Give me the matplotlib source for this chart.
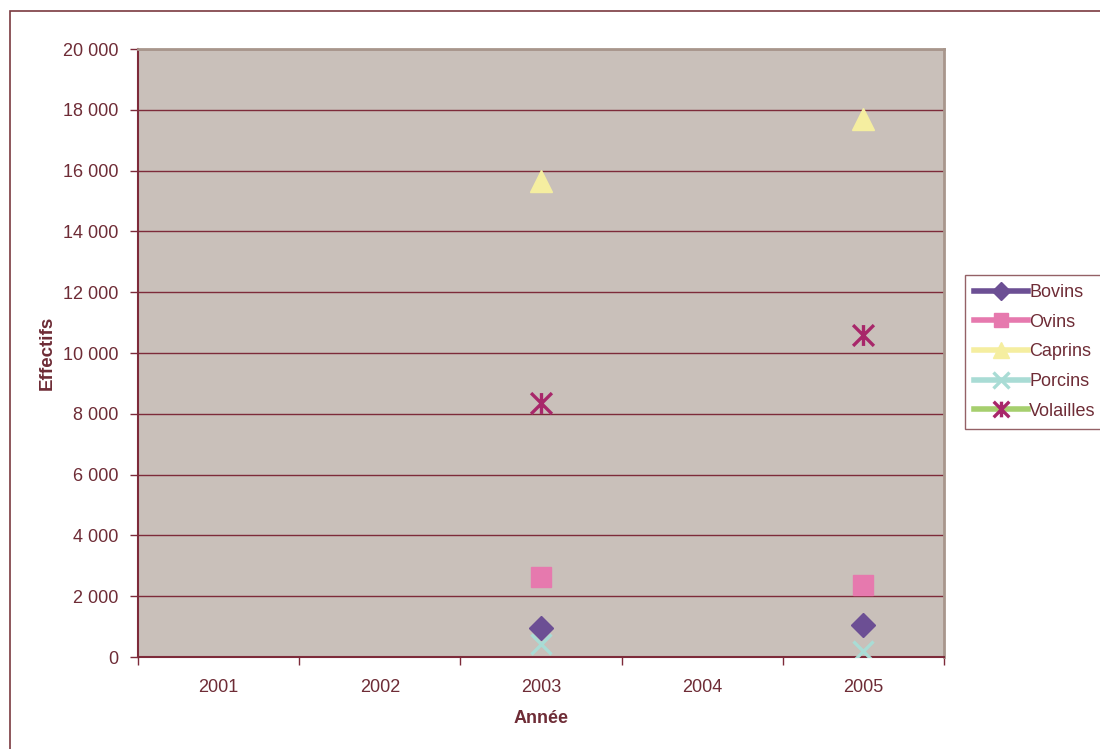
import numpy as np
import matplotlib
matplotlib.use("Agg")
import matplotlib.pyplot as plt
from matplotlib.path import Path
from matplotlib.patches import Rectangle
from matplotlib.ticker import FuncFormatter, FixedLocator

plt.rcParams['font.family'] = ['Liberation Sans', 'DejaVu Sans']

# donnees
annees = ["2001", "2002", "2003", "2004", "2005"]
bovins = [np.nan, np.nan, 950, np.nan, 1050]
ovins = [np.nan, np.nan, 2640, np.nan, 2370]
caprins = [np.nan, np.nan, 15650, np.nan, 17700]
porcins = [np.nan, np.nan, 430, np.nan, 200]
volailles = [np.nan, np.nan, 8360, np.nan, 10600]

texte = "#6E2C36"
grille = "#7D2B3A"

# marqueur asterisque (trait vertical + croix)
etoile = Path([(0, -1), (0, 1), (-1, -1), (1, 1), (-1, 1), (1, -1)],
              [Path.MOVETO, Path.LINETO, Path.MOVETO, Path.LINETO, Path.MOVETO, Path.LINETO])

fig = plt.figure(figsize=(11, 7.49), dpi=100)
fig.patches.append(Rectangle((10 / 1100, -0.1), 1.2, 1 - 11 / 749 + 0.1, transform=fig.transFigure,
                             fill=False, edgecolor="#7A3A40", linewidth=1.2))
ax = fig.add_axes([138 / 1100, 1 - 657 / 749, 806 / 1100, 608 / 749])
ax.set_facecolor("#C9C0BA")

x = np.arange(len(annees))
series = [
    ("Bovins", bovins, "#6C4F94", "#6C4F94", "D", 12),
    ("Ovins", ovins, "#E679AE", "#E679AE", "s", 14),
    ("Caprins", caprins, "#F5EEA0", "#F5EEA0", "^", 16),
    ("Porcins", porcins, "#A9DCD5", "#A9DCD5", "x", 15),
    ("Volailles", volailles, "#A6CF6E", "#A8276A", etoile, 15),
]
for nom, vals, c_ligne, c_marq, m, ms in series:
    ew = 2.4 if m in ("x",) or m is etoile else 1
    ax.plot(x, vals, color=c_ligne, linewidth=4, marker=m, markersize=ms,
            markerfacecolor=c_marq, markeredgecolor=c_marq, markeredgewidth=ew,
            label=nom, zorder=3)

ax.set_xlim(-0.5, 4.5)
ax.set_ylim(0, 20000)
ax.set_yticks(np.arange(0, 20001, 2000))
ax.yaxis.set_major_formatter(FuncFormatter(lambda v, p: f"{int(v):,}".replace(",", " ")))
ax.grid(axis="y", color=grille, linewidth=1)
ax.set_axisbelow(True)

ax.xaxis.set_major_locator(FixedLocator(np.arange(-0.5, 5, 1)))
ax.xaxis.set_minor_locator(FixedLocator(x))
ax.set_xticklabels([""] * 6)
ax.set_xticklabels(annees, minor=True)
ax.tick_params(axis="x", which="major", length=6, color=grille, width=1)
ax.tick_params(axis="x", which="minor", length=0, pad=16, labelsize=13, labelcolor=texte)
ax.tick_params(axis="y", length=6, color=grille, width=1, labelsize=13, labelcolor=texte, pad=8)

for s in ("left", "bottom"):
    ax.spines[s].set_color(grille)
    ax.spines[s].set_linewidth(1.5)
for s in ("top", "right"):
    ax.spines[s].set_color("#A8968C")
    ax.spines[s].set_linewidth(2)

ax.set_xlabel("Année", fontsize=13, fontweight="bold", color=texte, labelpad=10)
ax.set_ylabel("Effectifs", fontsize=13.5, fontweight="bold", color=texte, labelpad=5)

leg = fig.legend(loc="upper left", bbox_to_anchor=(965 / 1100, 1 - 275 / 749),
                 fontsize=13, frameon=True, fancybox=False, handlelength=3.0,
                 handletextpad=0.05, labelspacing=0.7, borderpad=0.5, borderaxespad=0,
                 markerscale=0.75)
leg.get_frame().set_edgecolor("#7A3A40")
leg.get_frame().set_linewidth(1)
for t in leg.get_texts():
    t.set_color(texte)

fig.savefig("out.png", dpi=100)
